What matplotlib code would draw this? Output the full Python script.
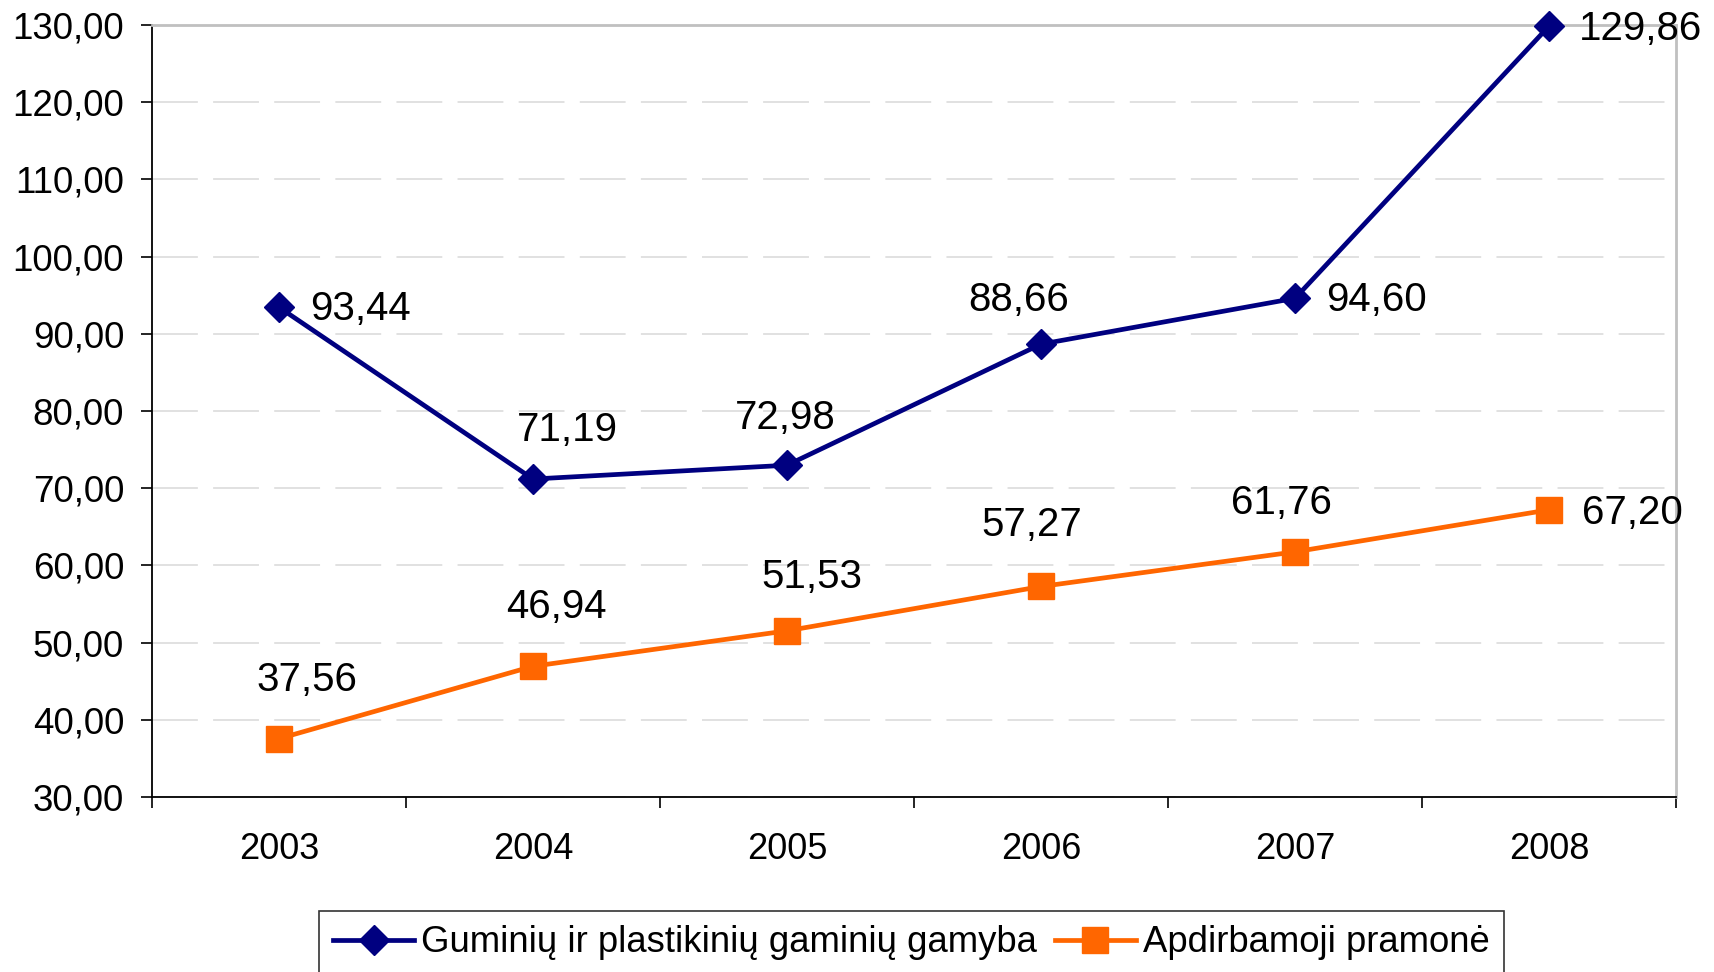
import matplotlib
matplotlib.use("Agg")
import matplotlib.pyplot as plt
from matplotlib.ticker import FuncFormatter, FixedLocator

plt.rcParams['font.family'] = ['Liberation Sans', 'DejaVu Sans']

years = ['2003', '2004', '2005', '2006', '2007', '2008']
guminiu = [93.44, 71.19, 72.98, 88.66, 94.60, 129.86]
apdirbamoji = [37.56, 46.94, 51.53, 57.27, 61.76, 67.20]

# label offsets in points (dx, dy)
off_gum = [(59, -1), (25, 35), (-1, 34), (-16, 32), (59, -1), (66, -2)]
off_apd = [(20, 42), (17, 43), (18, 39), (-7, 44), (-10, 35), (60, -2)]

fig = plt.figure(figsize=(17.15, 9.72), dpi=100)
ax = fig.add_axes([0.0886, 0.18, 0.8887, 0.7943])

x = list(range(len(years)))
ax.plot(x, guminiu, color='#000080', lw=3.4, marker='D', ms=15,
        label='Guminių ir plastikinių gaminių gamyba', zorder=3, clip_on=False)
ax.plot(x, apdirbamoji, color='#FF6600', lw=3.4, marker='s', ms=19,
        label='Apdirbamoji pramonė', zorder=3, clip_on=False)

def fmt(v):
    return f'{v:.2f}'.replace('.', ',')

for xi, v, o in zip(x, guminiu, off_gum):
    ax.annotate(fmt(v), (xi, v), xytext=o, textcoords='offset points',
                ha='center', va='center', fontsize=29)
for xi, v, o in zip(x, apdirbamoji, off_apd):
    ax.annotate(fmt(v), (xi, v), xytext=o, textcoords='offset points',
                ha='center', va='center', fontsize=29)

ax.set_xlim(-0.5, 5.5)
ax.set_ylim(30, 130)
ax.set_yticks(range(30, 131, 10))
ax.yaxis.set_major_formatter(FuncFormatter(lambda v, p: fmt(v)))
ax.set_xticks(x)
ax.set_xticklabels(years)
ax.xaxis.set_minor_locator(FixedLocator([i - 0.5 for i in range(len(years) + 1)]))

ax.tick_params(axis='y', labelsize=26.5, length=8, width=1.2, pad=12)
ax.tick_params(axis='x', which='major', labelsize=26, length=0, pad=25)
ax.tick_params(axis='x', which='minor', length=8, width=1.2)

ax.yaxis.grid(True, color='#d8d8d8', linestyle=(0, (30, 10)), lw=1.1)
ax.set_axisbelow(True)

ax.spines['left'].set_color('black')
ax.spines['left'].set_linewidth(1.3)
ax.spines['bottom'].set_color('black')
ax.spines['bottom'].set_linewidth(1.3)
ax.spines['top'].set_color('#c0c0c0')
ax.spines['top'].set_linewidth(2)
ax.spines['right'].set_color('#c0c0c0')
ax.spines['right'].set_linewidth(2)

leg = fig.legend(loc='upper center', bbox_to_anchor=(0.5315, 0.063), ncol=2,
                 fontsize=26.3, frameon=True, fancybox=False, edgecolor='black',
                 handlelength=2.2, handletextpad=0.2, columnspacing=0.5,
                 borderpad=0.4, borderaxespad=0)
leg.get_frame().set_linewidth(1.2)

fig.savefig('out.png', dpi=100)
